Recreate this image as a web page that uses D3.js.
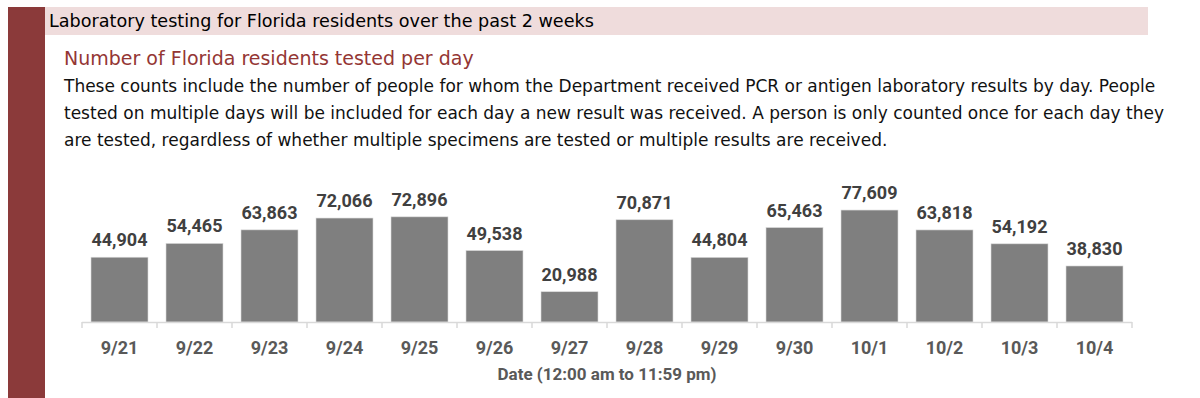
<!DOCTYPE html>
<html>
<head>
<meta charset="utf-8">
<script src="https://cdn.jsdelivr.net/npm/d3@7"></script>
<style>
  body { margin: 0; background: #fff; }
  svg { display: block; font-family: Roboto, "Liberation Sans", Arial, sans-serif; }
  .txt { font-family: "DejaVu Sans", Arial, sans-serif; }
</style>
</head>
<body>
<div id="chart"></div>
<script>
// data
var days = ["9/21", "9/22", "9/23", "9/24", "9/25", "9/26", "9/27",
            "9/28", "9/29", "9/30", "10/1", "10/2", "10/3", "10/4"];
var tested = [44904, 54465, 63863, 72066, 72896, 49538, 20988,
              70871, 44804, 65463, 77609, 63818, 54192, 38830];

var headerText = "Laboratory testing for Florida residents over the past 2 weeks";
var subTitle = "Number of Florida residents tested per day";
var notes = [
  "These counts include the number of people for whom the Department received PCR or antigen laboratory results by day. People",
  "tested on multiple days will be included for each day a new result was received. A person is only counted once for each day they",
  "are tested, regardless of whether multiple specimens are tested or multiple results are received."
];
var xTitle = "Date (12:00 am to 11:59 pm)";

var width = 1200, height = 398;

var svg = d3.select("#chart").append("svg")
    .attr("width", width)
    .attr("height", height);

// side stripe + header band
svg.append("rect")
    .attr("x", 8).attr("y", 7)
    .attr("width", 37).attr("height", height - 7)
    .style("fill", "#8b3a3a");

svg.append("rect")
    .attr("x", 45).attr("y", 7)
    .attr("width", 1103).attr("height", 28)
    .style("fill", "#efdcdc");

svg.append("text")
    .attr("class", "txt")
    .attr("x", 49).attr("y", 27)
    .text(headerText)
    .style("font-size", "17.6px")
    .style("fill", "#000");

svg.append("text")
    .attr("class", "txt")
    .attr("x", 64).attr("y", 65)
    .text(subTitle)
    .style("font-size", "19px")
    .style("fill", "#943634");

svg.selectAll(".note")
    .data(notes)
    .enter().append("text")
    .attr("class", "note txt")
    .attr("x", 64)
    .attr("y", function(d, i) { return 92 + i * 27; })
    .text(function(d) { return d; })
    .style("font-size", "17px")
    .style("fill", "#111");

// chart area
var x = d3.scaleBand()
    .domain(days)
    .range([82, 1132])
    .paddingInner(0.24)
    .paddingOuter(0.12);

var y = d3.scaleLinear()
    .domain([0, 80000])
    .range([322, 322 - 115.4]);

svg.selectAll(".bar")
    .data(tested)
    .enter().append("rect")
    .attr("class", "bar")
    .attr("x", function(d, i) { return x(days[i]); })
    .attr("y", function(d) { return y(d); })
    .attr("width", x.bandwidth())
    .attr("height", function(d) { return y(0) - y(d); })
    .style("fill", "#7f7f7f")
    .style("stroke", "#d9d9d9")
    .style("stroke-width", 0.6);

svg.selectAll(".val")
    .data(tested)
    .enter().append("text")
    .attr("class", "val")
    .attr("x", function(d, i) { return x(days[i]) + x.bandwidth() / 2; })
    .attr("y", function(d) { return y(d) - 11; })
    .attr("text-anchor", "middle")
    .text(d3.format(",d"))
    .style("font-size", "18px")
    .style("font-weight", "bold")
    .style("fill", "#404040");

// axis: light baseline with ticks between categories
var axisG = svg.append("g");
axisG.append("line")
    .attr("x1", 82).attr("x2", 1132)
    .attr("y1", 322.5).attr("y2", 322.5)
    .style("stroke", "#d9d9d9").style("stroke-width", 1.5);

axisG.selectAll(".tick")
    .data(d3.range(days.length + 1))
    .enter().append("line")
    .attr("x1", function(i) { return 82 + i * x.step(); })
    .attr("x2", function(i) { return 82 + i * x.step(); })
    .attr("y1", 322).attr("y2", 328)
    .style("stroke", "#d9d9d9").style("stroke-width", 1.5);

axisG.selectAll(".cat")
    .data(days)
    .enter().append("text")
    .attr("x", function(d) { return x(d) + x.bandwidth() / 2; })
    .attr("y", 354)
    .attr("text-anchor", "middle")
    .text(function(d) { return d; })
    .style("font-size", "18px")
    .style("font-weight", "bold")
    .style("fill", "#595959");

svg.append("text")
    .attr("x", 607).attr("y", 380)
    .attr("text-anchor", "middle")
    .text(xTitle)
    .style("font-size", "17px")
    .style("font-weight", "bold")
    .style("fill", "#595959");
</script>
</body>
</html>
